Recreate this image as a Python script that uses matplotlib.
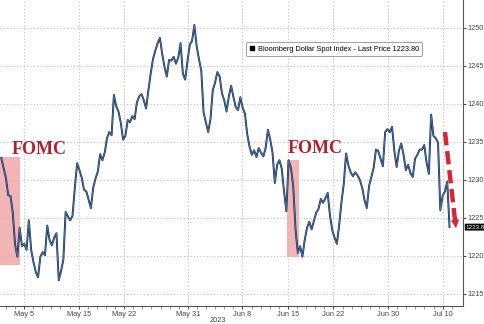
import matplotlib
matplotlib.use("Agg")
import matplotlib.pyplot as plt
import matplotlib.transforms as mtransforms
from matplotlib.lines import Line2D
from matplotlib.patches import Rectangle
import numpy as np

plt.rcParams["font.family"] = ["Liberation Sans", "DejaVu Sans"]

# Bloomberg Dollar Spot Index, intraday, x in trading days since May 5 2023
series_name = "Bloomberg Dollar Spot Index - Last Price"
t_start, t_end = -2.5, 46.76
price = [
    1232.9, 1231.6, 1230.3, 1228.0,
    1227.9, 1225.7, 1221.5, 1219.9,
    1223.7, 1221.3, 1221.6, 1220.8,
    1224.7, 1220.8, 1219.2, 1217.9,
    1217.2, 1219.9, 1220.5, 1220.1,
    1224.0, 1222.1, 1221.4, 1222.4,
    1223.0, 1216.8, 1218.0, 1219.5,
    1225.8, 1225.2, 1224.7, 1225.3,
    1229.0, 1232.2, 1231.3, 1230.3,
    1228.7, 1228.5, 1227.4, 1226.3,
    1229.0, 1230.2, 1231.1, 1233.4,
    1232.6, 1233.6, 1235.5, 1236.3,
    1235.9, 1241.2, 1239.7, 1239.0,
    1237.5, 1235.3, 1235.8, 1237.9,
    1237.6, 1238.4, 1238.0, 1240.2,
    1241.0, 1241.3, 1240.5, 1239.4,
    1241.8, 1244.0, 1245.9, 1247.0,
    1248.0, 1248.7, 1246.6, 1244.9,
    1243.6, 1245.8, 1245.7, 1246.2,
    1245.3, 1246.1, 1248.0, 1244.0,
    1243.2, 1245.6, 1247.8, 1248.3,
    1250.4, 1247.6, 1245.9, 1244.4,
    1238.9, 1237.6, 1236.3, 1238.0,
    1241.8, 1242.8, 1244.2, 1243.6,
    1241.4, 1240.5, 1239.0, 1241.0,
    1242.4, 1240.9, 1239.6, 1239.2,
    1240.9, 1239.5, 1238.7, 1236.0,
    1234.4, 1233.3, 1233.9, 1233.0,
    1234.2, 1233.6, 1233.1, 1234.2,
    1236.6, 1235.3, 1233.6, 1229.6,
    1232.0, 1232.6, 1231.5, 1228.5,
    1225.9, 1232.6, 1231.6, 1229.2,
    1223.5, 1220.4, 1221.3, 1219.9,
    1222.1, 1223.7, 1224.5, 1223.5,
    1224.6, 1225.7, 1226.2, 1227.5,
    1227.0, 1227.6, 1228.3, 1225.3,
    1223.4, 1222.4, 1221.6, 1224.1,
    1227.1, 1229.5, 1233.5, 1231.9,
    1231.0, 1230.5, 1231.0, 1230.6,
    1230.0, 1229.0, 1227.4, 1226.3,
    1229.2, 1230.4, 1231.6, 1234.0,
    1233.8, 1232.8, 1231.8, 1236.3,
    1236.7, 1236.3, 1237.0, 1233.8,
    1231.7, 1233.9, 1234.8, 1233.3,
    1231.3, 1232.0, 1230.9, 1230.4,
    1232.8, 1233.3, 1234.0, 1234.0,
    1234.6, 1232.3, 1230.8, 1238.6,
    1235.8, 1235.5, 1234.9, 1226.0,
    1227.9, 1228.5, 1229.8, 1223.8,
]
t = np.linspace(t_start, t_end, len(price))

tick_pos = [0, 6, 11, 18, 24, 29, 34, 40, 46]
tick_labels = ["May 5", "May 15", "May 22", "May 31", "Jun 8",
               "Jun 15", "Jun 22", "Jun 30", "Jul 10"]
y_ticks = [1215, 1220, 1225, 1230, 1235, 1240, 1245, 1250]

# FOMC shaded windows: (start day, end day, low, high)
fomc_boxes = [(-2.64, -0.44, 1218.8, 1233.0), (28.9, 30.2, 1219.9, 1232.6)]
fomc_text = [(-1.32, 1234.0), (29.0, 1234.2)]
arrow_from = (46.26, 1236.3)
arrow_to = (47.5, 1223.3)

fig = plt.figure(figsize=(4.85, 3.24), dpi=100)
ax = fig.add_axes([0, 18 / 324, 463 / 485, 1 - 18 / 324])

for x0, x1, lo, hi in fomc_boxes:
    ax.add_patch(Rectangle((x0, lo), x1 - x0, hi - lo, facecolor="#f2a7aa",
                           edgecolor="none", alpha=0.85, zorder=1))
for x, y in fomc_text:
    ax.text(x, y, "FOMC", family="Liberation Serif", fontweight="bold",
            fontsize=13, color="#b3202c", va="center", ha="left", zorder=4)

ax.plot(t, price, color="#1b2f4e", lw=1.4, zorder=3)
ax.plot(t, price, color="#4f82bb", lw=0.5, zorder=3)

# red dashed arrow
ax.plot([arrow_from[0], arrow_to[0] - 0.1], [arrow_from[1], arrow_to[1] + 1.0],
        color="#d32638", lw=3.2, linestyle=(0, (3, 1.3)), zorder=5,
        solid_capstyle="butt")
ax.annotate("", xy=arrow_to, xytext=(arrow_to[0] - 0.15, arrow_to[1] + 1.6),
            arrowprops=dict(arrowstyle="-|>", color="#d32638", lw=0,
                            mutation_scale=15), zorder=6)

ax.set_xlim(-2.64, 48.24)
ax.set_ylim(1213.42, 1253.68)

ax.set_xticks(tick_pos)
ax.set_xticklabels(tick_labels)
ax.set_xticks(np.arange(-2, 48), minor=True)
ax.set_yticks(y_ticks)
ax.yaxis.tick_right()

ax.grid(True, which="major", color="#bdbdbd", linestyle=(0, (1, 2)), lw=0.8)
ax.set_axisbelow(True)

for side in ["left", "top"]:
    ax.spines[side].set_visible(False)
ax.spines["right"].set_color("#555555")
ax.spines["bottom"].set_color("#555555")
ax.tick_params(axis="both", which="major", labelsize=5.3, colors="#444444",
               length=2.5, width=0.7, pad=1)
ax.tick_params(axis="x", which="minor", length=1.8, width=0.5, colors="#666666")

fig.text(218 / 485, 1 - 320 / 324, "2023", ha="center", va="center",
         fontsize=5.3, color="#444444")

# last price tag on the right axis
trans = mtransforms.blended_transform_factory(ax.transAxes, ax.transData)
ax.text(1.006, price[-1], f"{price[-1]:.1f}", transform=trans, fontsize=4.6,
        color="white", va="center", ha="left", clip_on=False,
        bbox=dict(boxstyle="round,pad=0.15", facecolor="black", edgecolor="none"))

handle = Line2D([], [], marker="s", color="black", linestyle="none",
                markersize=3.5)
leg = fig.legend([handle], [f"{series_name} {price[-1]:.2f}"], fontsize=5.3,
                 loc="center", bbox_to_anchor=(334 / 485, 1 - 49 / 324),
                 frameon=True, fancybox=True, edgecolor="#888888",
                 handlelength=0.8, handletextpad=0.4, borderpad=0.45)
leg.get_frame().set_linewidth(0.7)

fig.savefig("out.png", dpi=100)
